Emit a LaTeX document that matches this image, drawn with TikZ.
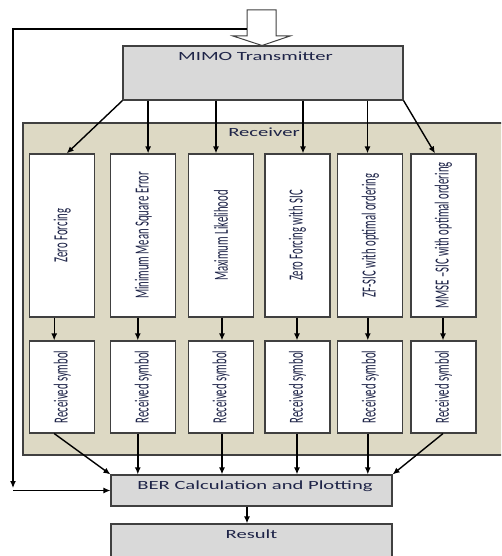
\documentclass[tikz,border=0pt]{standalone}
\usepackage{fontspec}
\usepackage{xcolor}
\setmainfont{Carlito}
\newfontfamily\widefont[FakeStretch=1.65]{Carlito}
\newfontfamily\narrowfont[FakeStretch=0.535]{Carlito}
\usetikzlibrary{arrows.meta}
\definecolor{rxbg}{RGB}{221,217,196}
\definecolor{boxgray}{RGB}{217,217,217}
\definecolor{edgegray}{RGB}{64,64,64}
\definecolor{ink}{RGB}{30,36,72}

\begin{document}
\begin{tikzpicture}[x=1pt, y=-1pt,
  every node/.style={rectangle, draw=edgegray, line width=1.1pt, inner sep=0pt},
  graybox/.style={fill=boxgray, minimum width=281pt},
  algbox/.style={fill=white, minimum width=65pt, minimum height=163pt,
    text=ink, font=\narrowfont\fontsize{20}{22}\selectfont},
  symbox/.style={algbox, minimum height=92pt},
  lbl/.style={draw=none, anchor=base, text=ink, font=\widefont\fontsize{12.5}{15}\selectfont},
  arr/.style={-{Latex[length=7pt,width=6pt]}, line width=1.4pt, black}]
\useasboundingbox (0,0) rectangle (501,556);
\clip (0,0) rectangle (501,556);

% receiver background
\draw[edgegray, line width=1.1pt, fill=rxbg] (23,123) rectangle (512,455);

% input arrow
\draw[edgegray, line width=1pt, fill=white] (247,10) -- (276,10) -- (276,36) -- (290,36)
  -- (262,45.5) -- (233,36) -- (247,36) -- cycle;

% boxes
\node[graybox, minimum width=280pt, minimum height=54pt] (tx) at (263,73) {};
\node[lbl] (txtext) at (255.5,61) {MIMO Transmitter};
\node[lbl] (rxtext) at (264,137) {Receiver};

\node[algbox] (z1) at (62.2,235.5) {\rotatebox{90}{Zero Forcing}};
\node[algbox] (z2) at (143.3,235.5) {\rotatebox{90}{Minimum Mean Square Error}};
\node[algbox] (z3) at (221,235.5) {\rotatebox{90}{Maximum Likelihood}};
\node[algbox] (z4) at (297.5,235.5) {\rotatebox{90}{Zero Forcing with SIC}};
\node[algbox] (z5) at (370.3,235.5) {\rotatebox{90}{ZF-SIC with optimal ordering}};
\node[algbox] (z6) at (443.5,235.5) {\rotatebox{90}{MMSE –SIC with optimal ordering}};

\node[symbox] (r1) at (62.2,387) {\rotatebox{90}{Received symbol}};
\node[symbox] (r2) at (143.3,387) {\rotatebox{90}{Received symbol}};
\node[symbox] (r3) at (221,387) {\rotatebox{90}{Received symbol}};
\node[symbox] (r4) at (297.5,387) {\rotatebox{90}{Received symbol}};
\node[symbox] (r5) at (370.3,387) {\rotatebox{90}{Received symbol}};
\node[symbox] (r6) at (443.5,387) {\rotatebox{90}{Received symbol}};

\node[graybox, minimum height=31pt] (ber) at (251.5,490.5) {};
\node[lbl] (bertext) at (255,489) {BER Calculation and Plotting};
\node[graybox, minimum height=44pt] (res) at (251.5,546) {};
\node[lbl] (restext) at (251.5,538) {Result};

% transmitter to detectors
\draw[arr] (tx.south west) -- ([xshift=4.5pt]z1.north);
\draw[arr] ([xshift=4.8pt]z2.north |- tx.south) -- ([xshift=4.8pt]z2.north);
\draw[arr] ([xshift=-5pt]z3.north |- tx.south) -- ([xshift=-5pt]z3.north);
\draw[arr] ([xshift=5.5pt]z4.north |- tx.south) -- ([xshift=5.5pt]z4.north);
\draw[arr] ([xshift=-2.8pt]z5.north |- tx.south) -- ([xshift=-2.8pt]z5.north);
\draw[arr] (tx.south east) -- ([xshift=-8.5pt]z6.north);

% detectors to symbols
\draw[arr] ([xshift=-8pt]z1.south) -- ([xshift=-8pt]r1.north);
\draw[arr] ([xshift=-5.5pt]z2.south) -- ([xshift=-5.5pt]r2.north);
\draw[arr] ([xshift=1pt]z3.south) -- ([xshift=1pt]r3.north);
\draw[arr] ([xshift=-0.5pt]z4.south) -- ([xshift=-0.5pt]r4.north);
\draw[arr] ([xshift=-2.5pt]z5.south) -- ([xshift=-2.5pt]r5.north);
\draw[arr] ([xshift=-0.5pt]z6.south) -- ([xshift=-0.5pt]r6.north);

% symbols to BER
\draw[arr] ([xshift=-8pt]r1.south) -- (ber.north west);
\draw[arr] ([xshift=-5.5pt]r2.south) -- ([xshift=-5.5pt]r2.south |- ber.north);
\draw[arr] ([xshift=1pt]r3.south) -- ([xshift=1pt]r3.south |- ber.north);
\draw[arr] ([xshift=-0.5pt]r4.south) -- ([xshift=-0.5pt]r4.south |- ber.north);
\draw[arr] ([xshift=-2.5pt]r5.south) -- ([xshift=-2.5pt]r5.south |- ber.north);
\draw[arr] ([xshift=-0.5pt]r6.south) -- (ber.north east);

% feedback path
\coordinate (fbtop) at (247,29);
\coordinate (fbcorner) at (13,29);
\coordinate (fbend) at (13,488);
\coordinate (fbstart) at (13,490.5);
\draw[arr, line width=1.2pt] (fbtop) -- (fbcorner) -- (fbend);
\draw[arr, line width=1.2pt] (fbstart) -- (ber.west);

\draw[arr] ([xshift=-4.5pt]ber.south) -- ([xshift=-4.5pt]res.north);
\end{tikzpicture}
\end{document}
